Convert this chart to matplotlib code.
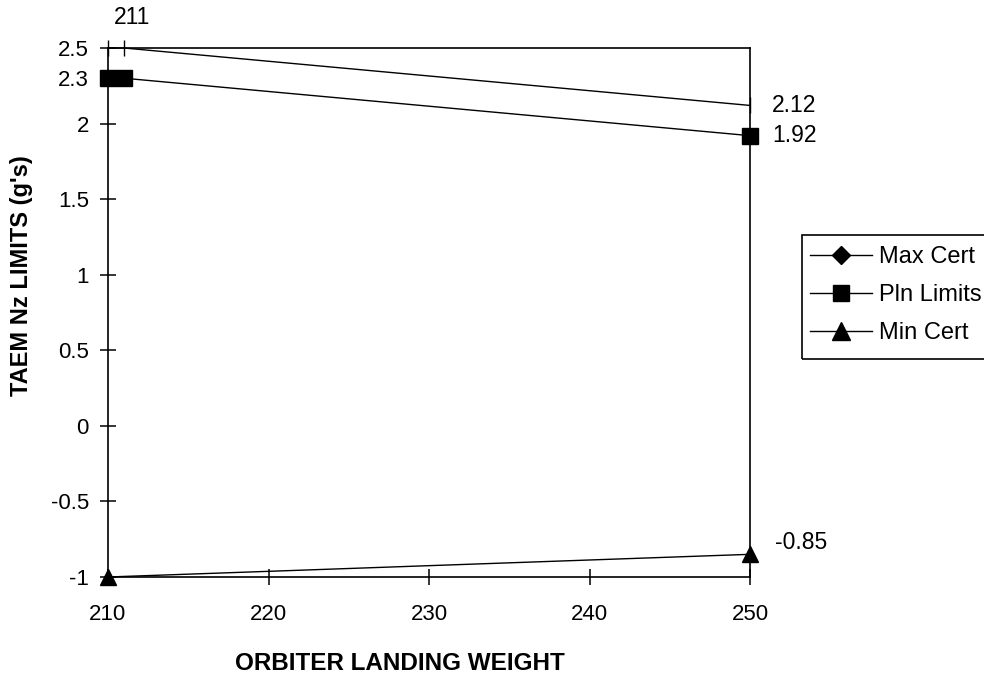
import matplotlib
matplotlib.use("Agg")
import matplotlib.pyplot as plt
from matplotlib.lines import Line2D
from matplotlib.patches import Rectangle

plt.rcParams['font.family'] = ['Liberation Sans', 'DejaVu Sans']

# ---- data ----
weights_max = [210, 211, 250]
max_cert = [2.5, 2.5, 2.12]
weights_pln = [210, 211, 250]
pln_limits = [2.3, 2.3, 1.92]
weights_min = [210, 250]
min_cert = [-1.0, -0.85]

x_ticks = [210, 220, 230, 240, 250]
x_tick_labels = ["210", "220", "230", "240", "250"]
y_ticks = [-1, -0.5, 0, 0.5, 1, 1.5, 2, 2.3, 2.5]
y_tick_labels = ["-1", "-0.5", "0", "0.5", "1", "1.5", "2", "2.3", "2.5"]

series_names = ["Max Cert", "Pln Limits", "Min Cert"]
x_label = "ORBITER LANDING WEIGHT"
y_label = "TAEM Nz LIMITS (g's)"

FS = 16
FS_ANN = 16.5
FS_LEG = 17
FS_LAB = 17.5

fig = plt.figure(figsize=(9.84, 6.73), dpi=100)
ax = fig.add_axes([108/984, 1-577/673, (750-108)/984, (577-48)/673])

LW = 1.0
ax.plot(weights_max, max_cert, color='black', lw=LW, marker='|', ms=12,
        mew=1.0, clip_on=False, zorder=3)
ax.plot(weights_pln, pln_limits, color='black', lw=LW, marker='s', ms=12,
        clip_on=False, zorder=3)
ax.plot(weights_min, min_cert, color='black', lw=LW, marker='^', ms=12,
        clip_on=False, zorder=3)

ax.set_xlim(210, 250)
ax.set_ylim(-1, 2.5)
ax.set_xticks(x_ticks)
ax.set_xticklabels(x_tick_labels, fontsize=FS)
ax.set_yticks(y_ticks)
ax.set_yticklabels(y_tick_labels, fontsize=FS)
ax.tick_params(axis='both', direction='inout', length=11.5, width=1.1, color='black')
ax.tick_params(axis='y', pad=8)
ax.tick_params(axis='x', pad=14)
for s in ax.spines.values():
    s.set_linewidth(1.2)
    s.set_color('black')

# data labels
ax.annotate("211", (weights_max[1], max_cert[1]), xytext=(5.8, 21.6),
            textcoords='offset points', ha='center', va='center', fontsize=FS_ANN)
ax.annotate("2.12", (weights_max[2], max_cert[2]), xytext=(15.8, 0),
            textcoords='offset points', ha='left', va='center', fontsize=FS_ANN)
ax.annotate("1.92", (weights_pln[2], pln_limits[2]), xytext=(15.8, 0),
            textcoords='offset points', ha='left', va='center', fontsize=FS_ANN)
ax.annotate("-0.85", (weights_min[1], min_cert[1]), xytext=(18, 8.6),
            textcoords='offset points', ha='left', va='center', fontsize=FS_ANN)

fig.text(400/984, 1-663/673, x_label, ha='center', va='center',
         fontsize=FS_LAB, fontweight='bold')
fig.text(22/984, 1-276/673, y_label, ha='center', va='center',
         rotation=90, fontsize=FS_LAB - 0.5, fontweight='bold')

handles = [
    Line2D([], [], color='black', lw=LW, marker='D', ms=9),
    Line2D([], [], color='black', lw=LW, marker='s', ms=12),
    Line2D([], [], color='black', lw=LW, marker='^', ms=13),
]
leg = fig.legend(handles, series_names, loc='upper left',
                 bbox_to_anchor=(802/984, 1-238/673), bbox_transform=fig.transFigure,
                 fontsize=FS_LEG, frameon=False, borderaxespad=0,
                 handlelength=2.6, handletextpad=0.3, labelspacing=0.68,
                 borderpad=0.35)

# legend frame (extends past the right edge like the reference)
fig.patches.append(Rectangle((802/984, 1-359/673), 220/984, (359-235)/673,
                             transform=fig.transFigure, fill=False,
                             edgecolor='black', linewidth=1.2, zorder=0))

fig.savefig("out.png", dpi=100)
